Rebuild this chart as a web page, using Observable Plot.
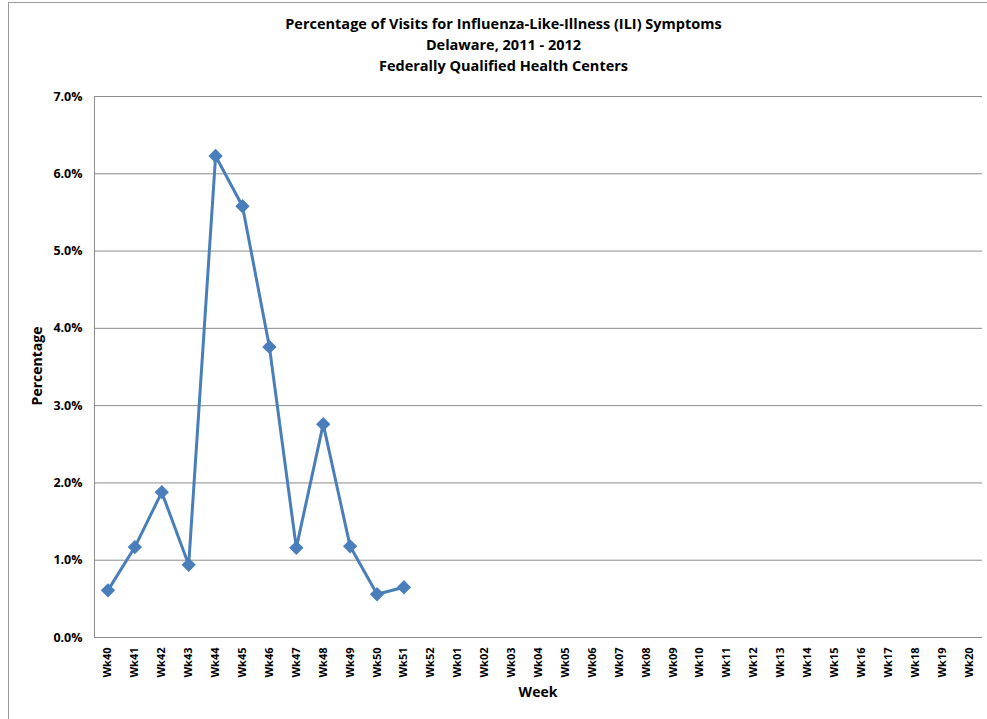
<!DOCTYPE html>
<html>
<head>
<meta charset="utf-8">
<script src="https://cdn.jsdelivr.net/npm/d3@7"></script>
<script src="https://cdn.jsdelivr.net/npm/@observablehq/plot@0.6"></script>
<style>
  html, body { margin: 0; padding: 0; background: #fff; }
  #wrap { position: relative; width: 987px; height: 719px; overflow: hidden; font-family: "Open Sans", "Liberation Sans", sans-serif; }
  #frame { position: absolute; left: 8px; top: 2px; width: 1000px; height: 800px; border: 1px solid #9a9a9a; box-sizing: border-box; }
  #title { position: absolute; left: 0; top: 13px; width: 1007px; text-align: center; font-weight: bold; font-size: 14.5px; line-height: 21px; color: #000; }
  #chart { position: absolute; left: 0; top: 80px; }
</style>
</head>
<body>
<div id="wrap">
  <div id="frame"></div>
  <div id="title">Percentage of Visits for Influenza-Like-Illness (ILI) Symptoms<br>Delaware, 2011 - 2012<br>Federally Qualified Health Centers</div>
  <div id="chart"></div>
</div>
<script>
const weeks = ["Wk40","Wk41","Wk42","Wk43","Wk44","Wk45","Wk46","Wk47","Wk48","Wk49","Wk50","Wk51","Wk52",
  "Wk01","Wk02","Wk03","Wk04","Wk05","Wk06","Wk07","Wk08","Wk09","Wk10","Wk11","Wk12","Wk13","Wk14","Wk15",
  "Wk16","Wk17","Wk18","Wk19","Wk20"];
const observedWeeks = ["Wk40","Wk41","Wk42","Wk43","Wk44","Wk45","Wk46","Wk47","Wk48","Wk49","Wk50","Wk51"];
const percentages = [0.61, 1.17, 1.88, 0.94, 6.23, 5.58, 3.76, 1.16, 2.76, 1.18, 0.56, 0.65];
const yTicks = [0, 1, 2, 3, 4, 5, 6, 7];

const data = observedWeeks.map((w, i) => ({week: w, value: percentages[i]}));
const color = "#4a7ebb";

const chart = Plot.plot({
  width: 987,
  height: 639,
  marginLeft: 94,
  marginRight: 5,
  marginTop: 16,
  marginBottom: 82,
  style: {fontFamily: "'Open Sans', 'Liberation Sans', sans-serif", background: "transparent"},
  x: {type: "band", domain: weeks, padding: 0, label: null},
  y: {domain: [0, 7], label: null},
  marks: [
    Plot.gridY(yTicks, {stroke: "#8c8c8c", strokeOpacity: 1, strokeWidth: 1}),
    Plot.ruleX([0], {x: () => weeks[0], dx: -13.5, stroke: "#8c8c8c", strokeWidth: 1, y1: 0, y2: 7}),
    Plot.axisY(yTicks, {tickSize: 0, tickPadding: 12, tickFormat: d => d.toFixed(1) + "%", fontWeight: "bold", fontSize: 12.5, fill: "#000"}),
    Plot.axisX(weeks, {tickSize: 0, tickPadding: 10, tickRotate: -90, fontWeight: "bold", fontSize: 11, fill: "#000"}),
    Plot.line(data, {x: "week", y: "value", stroke: color, strokeWidth: 3}),
    Plot.dot(data, {x: "week", y: "value", symbol: "diamond2", r: 5.5, fill: color, stroke: color})
  ]
});
document.getElementById("chart").appendChild(chart);

// axis titles
const svg = d3.select(chart);
svg.append("text").attr("x", 538).attr("y", 617).attr("text-anchor", "middle")
  .attr("font-weight", "bold").attr("font-size", 14).text("Week");
svg.append("text").attr("transform", "translate(42,286) rotate(-90)").attr("text-anchor", "middle")
  .attr("font-weight", "bold").attr("font-size", 14).text("Percentage");
</script>
</body>
</html>
